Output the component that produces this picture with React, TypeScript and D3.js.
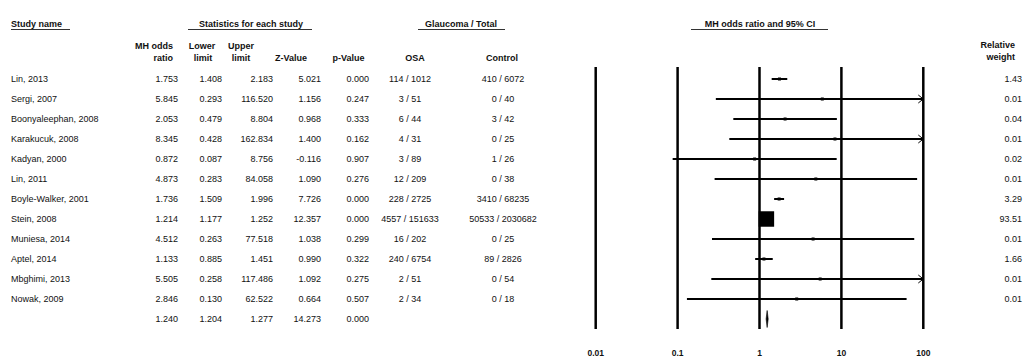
import React from 'react'
import * as d3 from 'd3'

// study rows
const studies = ['Lin, 2013', 'Sergi, 2007', 'Boonyaleephan, 2008', 'Karakucuk, 2008', 'Kadyan, 2000', 'Lin, 2011',
  'Boyle-Walker, 2001', 'Stein, 2008', 'Muniesa, 2014', 'Aptel, 2014', 'Mbghimi, 2013', 'Nowak, 2009']
const oddsRatio = [1.753, 5.845, 2.053, 8.345, 0.872, 4.873, 1.736, 1.214, 4.512, 1.133, 5.505, 2.846]
const lowerLimit = [1.408, 0.293, 0.479, 0.428, 0.087, 0.283, 1.509, 1.177, 0.263, 0.885, 0.258, 0.130]
const upperLimit = [2.183, 116.520, 8.804, 162.834, 8.756, 84.058, 1.996, 1.252, 77.518, 1.451, 117.486, 62.522]
const zValue = [5.021, 1.156, 0.968, 1.400, -0.116, 1.090, 7.726, 12.357, 1.038, 0.990, 1.092, 0.664]
const pValue = [0.000, 0.247, 0.333, 0.162, 0.907, 0.276, 0.000, 0.000, 0.299, 0.322, 0.275, 0.507]
const osa = ['114 / 1012', '3 / 51', '6 / 44', '4 / 31', '3 / 89', '12 / 209', '228 / 2725', '4557 / 151633', '16 / 202', '240 / 6754', '2 / 51', '2 / 34']
const control = ['410 / 6072', '0 / 40', '3 / 42', '0 / 25', '1 / 26', '0 / 38', '3410 / 68235', '50533 / 2030682', '0 / 25', '89 / 2826', '0 / 54', '0 / 18']
const relWeight = [1.43, 0.01, 0.04, 0.01, 0.02, 0.01, 3.29, 93.51, 0.01, 1.66, 0.01, 0.01]
// pooled
const summary = { or: 1.240, lower: 1.204, upper: 1.277, z: 14.273, p: 0.000 }
const axisTicks = [0.01, 0.1, 1, 10, 100]

const FONT = '"Liberation Sans", Arial, sans-serif'

export default function App() {
  const x = d3.scaleLog().domain([0.01, 100]).range([595.7, 923.3])
  const y = d3.scaleLinear().domain([0, 12]).range([79, 319])
  const f3 = (v: number) => v.toFixed(3)
  const f2 = (v: number) => v.toFixed(2)
  const [xMin, xMax] = x.domain()

  const txt = { fontFamily: FONT, fontSize: 9, fill: '#111' } as const
  const bold = { ...txt, fontWeight: 'bold' } as const

  const cols = [
    { vals: oddsRatio.map(f3), x: 178, anchor: 'end' },
    { vals: lowerLimit.map(f3), x: 222, anchor: 'end' },
    { vals: upperLimit.map(f3), x: 273, anchor: 'end' },
    { vals: zValue.map(f3), x: 321, anchor: 'end' },
    { vals: pValue.map(f3), x: 369, anchor: 'end' },
    { vals: osa, x: 410, anchor: 'middle' },
    { vals: control, x: 503, anchor: 'middle' },
    { vals: relWeight.map(f2), x: 1022, anchor: 'end' },
  ]
  const sumVals = [summary.or, summary.lower, summary.upper, summary.z, summary.p].map(f3)

  return (
    <svg width={1028} height={360} style={{ position: 'absolute', left: 0, top: 0, background: '#fff' }}>
      {/* group headers */}
      <text x={11} y={24} dominantBaseline="central" style={bold}>Study name</text>
      <line x1={11} x2={70} y1={29.5} y2={29.5} stroke="#333" strokeWidth={1} />
      <text x={251} y={24} dominantBaseline="central" textAnchor="middle" style={bold}>Statistics for each study</text>
      <line x1={188} x2={312} y1={29.5} y2={29.5} stroke="#333" strokeWidth={1} />
      <text x={461} y={24} dominantBaseline="central" textAnchor="middle" style={bold}>Glaucoma / Total</text>
      <line x1={418} x2={505} y1={29.5} y2={29.5} stroke="#333" strokeWidth={1} />
      <text x={760} y={24} dominantBaseline="central" textAnchor="middle" style={bold}>MH odds ratio and 95% CI</text>
      <line x1={691} x2={828} y1={29.5} y2={29.5} stroke="#333" strokeWidth={1} />

      {/* column headers */}
      <text x={173} y={46} dominantBaseline="central" textAnchor="end" style={bold}>MH odds</text>
      <text x={173} y={58} dominantBaseline="central" textAnchor="end" style={bold}>ratio</text>
      <text x={202} y={46} dominantBaseline="central" textAnchor="middle" style={bold}>Lower</text>
      <text x={203} y={58} dominantBaseline="central" textAnchor="middle" style={bold}>limit</text>
      <text x={241} y={46} dominantBaseline="central" textAnchor="middle" style={bold}>Upper</text>
      <text x={241} y={58} dominantBaseline="central" textAnchor="middle" style={bold}>limit</text>
      <text x={291} y={58} dominantBaseline="central" textAnchor="middle" style={bold}>Z-Value</text>
      <text x={348.5} y={58} dominantBaseline="central" textAnchor="middle" style={bold}>p-Value</text>
      <text x={415} y={58} dominantBaseline="central" textAnchor="middle" style={bold}>OSA</text>
      <text x={502} y={58} dominantBaseline="central" textAnchor="middle" style={bold}>Control</text>
      <text x={1015} y={45} dominantBaseline="central" textAnchor="end" style={bold}>Relative</text>
      <text x={1015} y={57} dominantBaseline="central" textAnchor="end" style={bold}>weight</text>

      {/* rows */}
      {studies.map((s, i) => (
        <text key={'s' + i} x={11} y={y(i)} dominantBaseline="central" style={txt}>{s}</text>
      ))}
      {cols.map((c, ci) => c.vals.map((v, i) => (
        <text key={ci + '-' + i} x={c.x} y={y(i)} dominantBaseline="central" textAnchor={c.anchor} style={txt}>{v}</text>
      )))}
      {sumVals.map((v, ci) => (
        <text key={'sum' + ci} x={cols[ci].x} y={y(12)} dominantBaseline="central" textAnchor="end" style={txt}>{v}</text>
      ))}

      {/* vertical reference lines */}
      {axisTicks.map(t => (
        <line key={'v' + t} x1={x(t)} x2={x(t)} y1={67} y2={329} stroke="#000" strokeWidth={2.5} />
      ))}
      {axisTicks.map(t => (
        <text key={'t' + t} x={x(t)} y={353} dominantBaseline="central" textAnchor="middle" style={{ ...bold, fontSize: 8.5 }}>{t}</text>
      ))}

      {/* confidence intervals and boxes */}
      {studies.map((s, i) => {
        const lo = Math.max(lowerLimit[i], xMin)
        const hi = Math.min(upperLimit[i], xMax)
        const side = Math.max(1.6 * Math.sqrt(relWeight[i]), 3)
        const yc = y(i)
        return (
          <g key={'ci' + i}>
            <line x1={x(lo)} x2={x(hi)} y1={yc} y2={yc} stroke="#000" strokeWidth={2} />
            {upperLimit[i] > xMax && (
              <polyline points={`${x(xMax) - 5},${yc - 4} ${x(xMax)},${yc} ${x(xMax) - 5},${yc + 4}`}
                fill="none" stroke="#000" strokeWidth={1} />
            )}
            <rect x={x(oddsRatio[i]) - side / 2} y={yc - side / 2} width={side} height={side} fill="#000" />
          </g>
        )
      })}

      {/* pooled diamond */}
      <polygon
        points={`${x(summary.lower)},${y(12)} ${x(summary.or)},${y(12) - 8.5} ${x(summary.upper)},${y(12)} ${x(summary.or)},${y(12) + 8.5}`}
        fill="#000" stroke="#000" strokeWidth={0.6} />
    </svg>
  )
}
